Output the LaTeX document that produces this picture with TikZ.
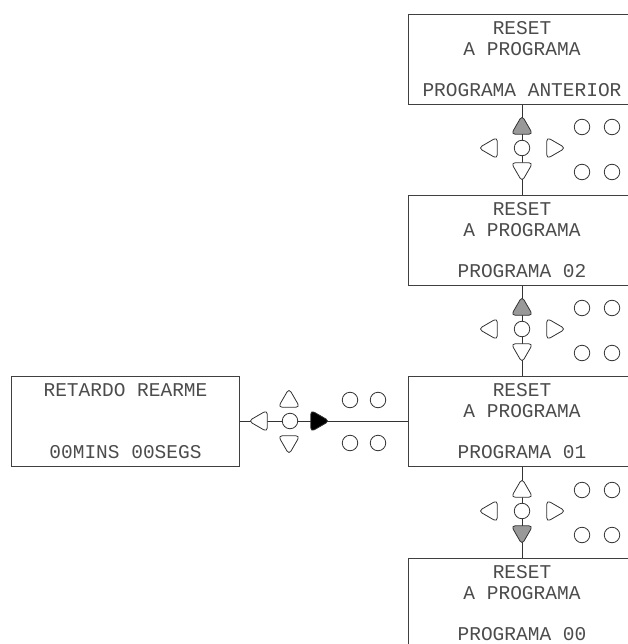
\documentclass[tikz,border=0pt]{standalone}
\usepackage{fontspec}
\setmonofont{Liberation Mono}
\usetikzlibrary{shapes.geometric,backgrounds}
\tikzset{
  lcd/.style={draw=black!75, line width=0.8pt, minimum width=228pt, minimum height=90pt,
    inner sep=0pt, align=center, font=\ttfamily\fontsize{19.5}{20.7}\selectfont, text=black!70},
  keytri/.style={regular polygon, regular polygon sides=3, draw=black!80, line width=0.8pt,
    fill=white, minimum size=25pt, inner sep=0pt, rounded corners=4pt},
  keyup/.style={keytri, shape border rotate=0},
  keydown/.style={keytri, shape border rotate=180},
  keyleft/.style={keytri, shape border rotate=90},
  keyright/.style={keytri, shape border rotate=270},
  btn/.style={circle, draw=black!80, line width=0.8pt, fill=white, minimum size=15.5pt, inner sep=0pt},
  wire/.style={draw=black!80, line width=0.8pt},
  pressed/.style={fill=black!40},
  pressedblack/.style={fill=black}
}
\newcommand\vkeypad[5]{% prefix, circle y, up style, down style
  \node[keyup,#3] (#1u) at (522,#2-20) {};
  \node[btn] (#1c) at (522,#2) {};
  \node[keydown,#4] (#1d) at (522,#2+21) {};
  \node[keyleft] (#1l) at (491,#2) {};
  \node[keyright] (#1r) at (553,#2) {};
  \node[btn] (#1a) at (582,#2-21) {};
  \node[btn] (#1b) at (612,#2-21) {};
  \node[btn] (#1e) at (582,#2+24) {};
  \node[btn] (#1f) at (612,#2+24) {};
}
\begin{document}
\begin{tikzpicture}[x=1pt,y=-1pt]
\useasboundingbox (0,0) rectangle (627,644);
\node[lcd] (b1) at (522,59) {RESET\\A PROGRAMA\\\strut\\PROGRAMA ANTERIOR};
\node[lcd] (b2) at (522,240.5) {RESET\\A PROGRAMA\\\strut\\PROGRAMA 02};
\node[lcd] (b3) at (522,421) {RESET\\A PROGRAMA\\\strut\\PROGRAMA 01};
\node[lcd] (b4) at (522,603) {RESET\\A PROGRAMA\\\strut\\PROGRAMA 00};
\node[lcd] (l1) at (125.5,421) {RETARDO REARME\\\strut\\\strut\\00MINS 00SEGS};
\vkeypad{k1}{148}{pressed}{}{}
\vkeypad{k2}{329}{pressed}{}{}
\vkeypad{k3}{511}{}{pressed}{}
% horizontal keypad
\node[keyleft] (hl) at (261,421) {};
\node[btn] (hc) at (290,421) {};
\node[keyright,pressedblack] (hr) at (317,421) {};
\node[keyup] (hu) at (289,401) {};
\node[keydown] (hd) at (289,442) {};
\node[btn] (ha) at (350,400) {};
\node[btn] (hb) at (378,400) {};
\node[btn] (he) at (350,443) {};
\node[btn] (hf) at (378,443) {};
\begin{scope}[on background layer]
  \draw[wire] (b1.south) -- (b2.north);
  \draw[wire] (b2.south) -- (b3.north);
  \draw[wire] (b3.south) -- (b4.north);
  \draw[wire] (l1.east) -- (b3.west);
\end{scope}
\end{tikzpicture}
\end{document}
